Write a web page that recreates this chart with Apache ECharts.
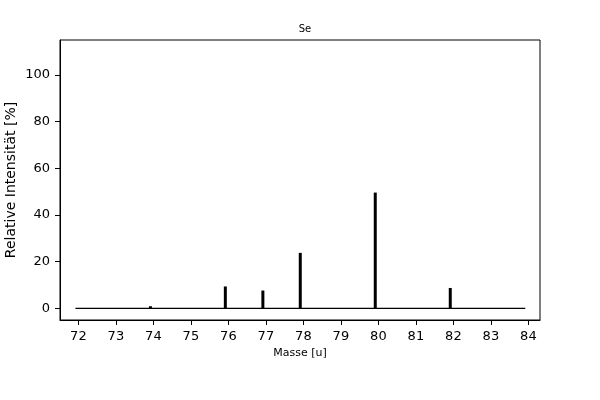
<!DOCTYPE html>
<html>
<head>
<meta charset="utf-8">
<script src="https://cdn.jsdelivr.net/npm/echarts@6/dist/echarts.min.js"></script>
<style>html,body{margin:0;padding:0;background:#fff}#c{width:600px;height:400px}</style>
</head>
<body>
<div id="c"></div>
<script>
const title = 'Se';
const masses = [73.922, 75.919, 76.920, 77.917, 79.917, 81.917];
const intensities = [0.89, 9.37, 7.63, 23.77, 49.61, 8.73];
const xTicks = [72, 73, 74, 75, 76, 77, 78, 79, 80, 81, 82, 83, 84];
const yTicks = [0, 20, 40, 60, 80, 100];
const baseline = [[71.922, 0], [83.917, 0]];

const font = 'DejaVu Sans';
const chart = echarts.init(document.getElementById('c'), null, {renderer: 'canvas'});
chart.setOption({
  animation: false,
  backgroundColor: '#fff',
  title: {text: title, left: 300, top: 19, textAlign: 'center',
    textStyle: {fontFamily: font, fontSize: 10, fontWeight: 'normal', color: '#000'}},
  grid: {left: 60, right: 60, top: 40, bottom: 80, show: true, borderColor: '#000', borderWidth: 1,
    containLabel: false, outerBoundsMode: 'none'},
  xAxis: {
    type: 'value', min: 71.51, max: 84.31,
    name: 'Masse [u]', nameLocation: 'middle', nameGap: 28, nameMoveOverlap: false,
    nameTextStyle: {fontFamily: font, fontSize: 11, color: '#000'},
    axisLine: {show: true, onZero: false, lineStyle: {color: '#000', width: 1}},
    axisTick: {show: true, length: 5, lineStyle: {color: '#000'}, customValues: xTicks},
    axisLabel: {fontFamily: font, fontSize: 13, color: '#000', margin: 10, customValues: xTicks},
    splitLine: {show: false}
  },
  yAxis: {
    type: 'value', min: -5, max: 115,
    name: 'Relative Intensität [%]', nameLocation: 'middle', nameGap: 42, nameMoveOverlap: false,
    nameTextStyle: {fontFamily: font, fontSize: 14, color: '#000'},
    axisLine: {show: true, onZero: false, lineStyle: {color: '#000', width: 1}},
    axisTick: {show: true, length: 5, lineStyle: {color: '#000'}, customValues: yTicks},
    axisLabel: {fontFamily: font, fontSize: 13, color: '#000', margin: 10, customValues: yTicks},
    splitLine: {show: false}
  },
  series: [
    {type: 'line', data: baseline, symbol: 'none', lineStyle: {color: '#000', width: 1.3}, z: 1},
    {type: 'bar', data: masses.map((m, i) => [m, intensities[i]]), barWidth: 3,
      itemStyle: {color: '#000'}, z: 2}
  ]
});
</script>
</body>
</html>
